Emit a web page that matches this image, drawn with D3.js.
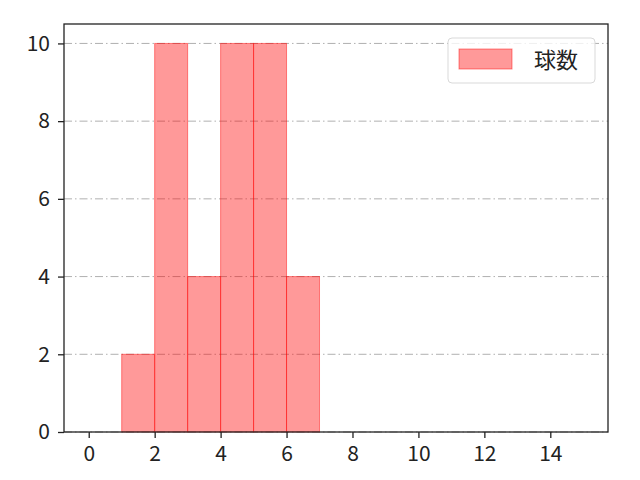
<!DOCTYPE html>
<html>
<head>
<meta charset="utf-8">
<script src="https://cdn.jsdelivr.net/npm/d3@7"></script>
<style>
  body { margin: 0; background: #fff; }
  text { font-family: "Noto Sans CJK JP", "DejaVu Sans", sans-serif; }
</style>
</head>
<body>
<script>
// histogram bins and counts
var binStarts = [1, 2, 3, 4, 5, 6];
var binWidth = 1;
var counts = [2, 10, 4, 10, 10, 4];
var xTicks = [0, 2, 4, 6, 8, 10, 12, 14];
var yTicks = [0, 2, 4, 6, 8, 10];
var seriesName = "球数";

var w = 640, h = 480;
var margin = {top: 24, right: 32, bottom: 48, left: 64};
var graphWidth = w - margin.left - margin.right;
var graphHeight = h - margin.top - margin.bottom;

var svg = d3.select("body").append("svg")
  .attr("width", w)
  .attr("height", h);

var graph = svg.append("g")
  .attr("transform", `translate(${margin.left}, ${margin.top})`);

var xScale = d3.scaleLinear().domain([-0.75, 15.75]).range([0, graphWidth]);
var yScale = d3.scaleLinear().domain([0, 10.5]).range([graphHeight, 0]);

// grid lines (y only)
graph.selectAll(".grid")
  .data(yTicks)
  .enter()
  .append("line")
  .attr("x1", 0)
  .attr("x2", graphWidth)
  .attr("y1", d => yScale(d))
  .attr("y2", d => yScale(d))
  .attr("stroke", "#b0b0b0")
  .attr("stroke-width", 1)
  .attr("stroke-dasharray", "8,3,1.5,3");

// bars
graph.selectAll(".bar")
  .data(counts)
  .enter()
  .append("rect")
  .attr("x", (d, i) => xScale(binStarts[i]))
  .attr("width", (d, i) => xScale(binStarts[i] + binWidth) - xScale(binStarts[i]))
  .attr("y", d => yScale(d))
  .attr("height", d => yScale(0) - yScale(d))
  .attr("fill", "rgba(255,0,0,0.4)")
  .attr("stroke", "rgba(255,0,0,0.45)")
  .attr("stroke-width", 1);

// axes
var xAxis = graph.append("g")
  .attr("transform", `translate(0, ${graphHeight})`)
  .call(d3.axisBottom(xScale).tickValues(xTicks).tickSize(6).tickPadding(8));
var yAxis = graph.append("g")
  .call(d3.axisLeft(yScale).tickValues(yTicks).tickSize(6).tickPadding(8));

[xAxis, yAxis].forEach(function(a) {
  a.select(".domain").remove();
  a.selectAll("line").attr("stroke", "#222").attr("stroke-width", 1.3);
  a.selectAll("text").attr("fill", "#222").style("font-size", "21px");
});

// frame
graph.append("rect")
  .attr("width", graphWidth)
  .attr("height", graphHeight)
  .attr("fill", "none")
  .attr("stroke", "#222")
  .attr("stroke-width", 1.3);

// legend
var legend = graph.append("g")
  .attr("transform", `translate(${448 - margin.left}, ${38 - margin.top})`);
legend.append("rect")
  .attr("width", 147)
  .attr("height", 45)
  .attr("rx", 4)
  .attr("fill", "rgba(255,255,255,0.8)")
  .attr("stroke", "#d9d9d9");
legend.append("rect")
  .attr("x", 11)
  .attr("y", 11)
  .attr("width", 53)
  .attr("height", 20)
  .attr("fill", "rgba(255,0,0,0.4)")
  .attr("stroke", "rgba(255,0,0,0.45)");
legend.append("text")
  .attr("x", 86)
  .attr("y", 30)
  .attr("fill", "#222")
  .style("font-size", "22px")
  .text(seriesName);
</script>
</body>
</html>
